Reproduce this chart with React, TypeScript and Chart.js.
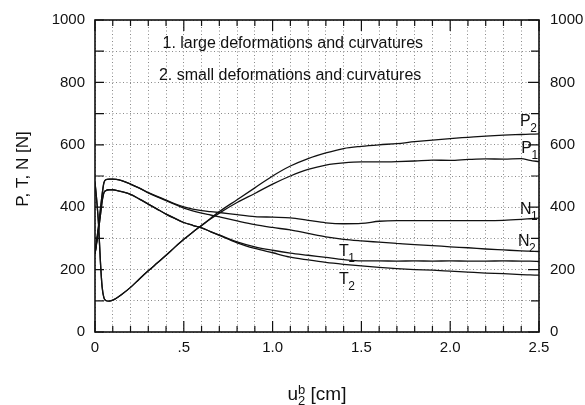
import React, { useEffect, useRef } from "react";
import { Chart, registerables } from "chart.js";
Chart.register(...registerables);

const FONT = '"Liberation Sans", Arial, Helvetica, sans-serif';

// displacement u2b [cm]
const xs = [0, 0.01, 0.02, 0.03, 0.04, 0.05, 0.06, 0.08, 0.1, 0.12, 0.15, 0.2, 0.25, 0.3, 0.35, 0.4, 0.45, 0.5, 0.55, 0.6, 0.65, 0.7, 0.8, 0.9, 1.0, 1.1, 1.2, 1.3, 1.4, 1.5, 1.6, 1.7, 1.8, 1.9, 2.0, 2.1, 2.2, 2.3, 2.4, 2.45, 2.5];

// forces [N]
const p2 = [480, 420, 345, 230, 145, 110, 101, 99, 102, 108, 120, 143, 170, 196, 221, 246, 272, 297, 320, 342, 364, 386, 424, 462, 500, 532, 556, 574, 588, 595, 600, 604, 610, 615, 620, 624, 628, 631, 633, 634, 635];
const p1 = [480, 420, 345, 230, 145, 110, 101, 99, 102, 108, 120, 143, 170, 196, 221, 246, 272, 297, 320, 341, 362, 381, 415, 444, 474, 500, 521, 535, 542, 545, 545, 546, 548, 551, 550, 553, 555, 554, 556, 550, 546];
const n1 = [250, 295, 340, 390, 440, 478, 488, 490, 490, 489, 485, 474, 461, 447, 435, 423, 411, 401, 394, 389, 386, 383, 376, 370, 368, 366, 358, 350, 347, 348, 355, 357, 357, 357, 357, 357, 357, 358, 361, 363, 365];
const n2 = [250, 295, 340, 390, 440, 478, 488, 490, 490, 489, 485, 474, 461, 446, 433, 421, 409, 397, 388, 381, 375, 369, 356, 344, 335, 327, 316, 305, 297, 292, 288, 284, 280, 277, 273, 270, 266, 263, 260, 259, 258];
const t1 = [250, 288, 328, 372, 418, 446, 453, 456, 456, 454, 450, 441, 426, 410, 394, 378, 364, 351, 342, 334, 322, 311, 289, 273, 262, 253, 246, 239, 232, 228, 228, 227, 228, 227, 228, 227, 227, 228, 227, 227, 226];
const t2 = [250, 288, 328, 372, 418, 446, 453, 456, 456, 454, 450, 441, 426, 410, 394, 378, 364, 351, 342, 334, 322, 310, 286, 268, 254, 240, 231, 223, 217, 212, 207, 203, 200, 198, 195, 192, 189, 187, 184, 183, 182];

const xTickValues = [0, 0.5, 1, 1.5, 2, 2.5];
const xTickLabels = ["0", ".5", "1.0", "1.5", "2.0", "2.5"];
const yTickValues = [0, 200, 400, 600, 800, 1000];
const yTickLabels = ["0", "200", "400", "600", "800", "1000"];

const notes = ["1. large deformations and curvatures", "2. small deformations and curvatures"];

const toPoints = (ys: number[]) => xs.map((x, i) => ({ x, y: ys[i] }));

const labelFor = (v: number, values: number[], labels: string[]) => {
  const i = values.findIndex((t) => Math.abs(t - v) < 1e-6);
  return i >= 0 ? labels[i] : "";
};

const framePlugin = {
  id: "frame",
  afterDraw(chart: any) {
    const { ctx, chartArea: a, scales } = chart;
    const x = scales.x;
    const y = scales.y;
    ctx.save();
    ctx.strokeStyle = "#111";
    ctx.lineWidth = 1.2;

    // inward tick marks
    x.ticks.forEach((t: any) => {
      const px = x.getPixelForValue(t.value);
      const major = labelFor(t.value, xTickValues, xTickLabels) !== "";
      const len = major ? 11 : 6;
      ctx.beginPath();
      ctx.moveTo(px, a.top);
      ctx.lineTo(px, a.top + len);
      ctx.moveTo(px, a.bottom);
      ctx.lineTo(px, a.bottom - len);
      ctx.stroke();
    });
    y.ticks.forEach((t: any) => {
      const py = y.getPixelForValue(t.value);
      const major = labelFor(t.value, yTickValues, yTickLabels) !== "";
      ctx.beginPath();
      ctx.moveTo(a.left, py);
      ctx.lineTo(a.left + 9, py);
      ctx.moveTo(a.right, py);
      ctx.lineTo(a.right - (major ? 11 : 8), py);
      ctx.stroke();
    });

    // frame
    ctx.lineWidth = 1.6;
    ctx.strokeRect(a.left, a.top, a.right - a.left, a.bottom - a.top);

    ctx.fillStyle = "#111";
    ctx.textBaseline = "alphabetic";
    ctx.textAlign = "left";

    // notes
    ctx.font = `16px ${FONT}`;
    ctx.fillText(notes[0], x.getPixelForValue(0.38), y.getPixelForValue(911));
    ctx.fillText(notes[1], x.getPixelForValue(0.36), y.getPixelForValue(809));

    // curve labels
    const curveLabels = [
      { main: "P", sub: "2", x: 2.393, y: 659 },
      { main: "P", sub: "1", x: 2.4, y: 573 },
      { main: "N", sub: "1", x: 2.393, y: 379 },
      { main: "N", sub: "2", x: 2.382, y: 277 },
      { main: "T", sub: "1", x: 1.374, y: 245 },
      { main: "T", sub: "2", x: 1.374, y: 153 },
    ];
    curveLabels.forEach((l) => {
      const px = x.getPixelForValue(l.x);
      const py = y.getPixelForValue(l.y);
      ctx.font = `16px ${FONT}`;
      ctx.fillText(l.main, px, py);
      const w = ctx.measureText(l.main).width;
      ctx.font = `12px ${FONT}`;
      ctx.fillText(l.sub, px + w - 0.5, py + 6);
    });

    // y title
    ctx.save();
    ctx.translate(23, (a.top + a.bottom) / 2 - 7);
    ctx.rotate(-Math.PI / 2);
    ctx.font = `17px ${FONT}`;
    ctx.textAlign = "center";
    ctx.textBaseline = "middle";
    ctx.fillText("P, T, N [N]", 0, 0);
    ctx.restore();

    // x title u_2^b [cm]
    ctx.font = `19px ${FONT}`;
    const wu = ctx.measureText("u").width;
    const wr = ctx.measureText(" [cm]").width;
    ctx.font = `13px ${FONT}`;
    const ws = Math.max(ctx.measureText("b").width, ctx.measureText("2").width);
    const total = wu + ws + wr;
    let sx = (a.left + a.right) / 2 - total / 2;
    const base = 400;
    ctx.font = `19px ${FONT}`;
    ctx.fillText("u", sx, base);
    sx += wu;
    ctx.font = `13px ${FONT}`;
    ctx.fillText("b", sx, base - 6);
    ctx.fillText("2", sx, base + 5);
    sx += ws;
    ctx.font = `19px ${FONT}`;
    ctx.fillText(" [cm]", sx, base);

    ctx.restore();
  },
};

export default function App() {
  const canvasRef = useRef<HTMLCanvasElement>(null);
  const chartRef = useRef<Chart | null>(null);

  useEffect(() => {
    document.body.style.margin = "0";
    if (!canvasRef.current) return;
    if (chartRef.current) chartRef.current.destroy();

    const line = (label: string, ys: number[]) => ({
      label,
      data: toPoints(ys),
      borderColor: "#111",
      borderWidth: 1.3,
      pointRadius: 0,
      fill: false,
      cubicInterpolationMode: "monotone" as const,
    });

    const gridColor = "#8a8a8a";

    chartRef.current = new Chart(canvasRef.current, {
      type: "line",
      data: {
        datasets: [
          line("P2", p2),
          line("P1", p1),
          line("N1", n1),
          line("N2", n2),
          line("T1", t1),
          line("T2", t2),
        ],
      },
      options: {
        animation: false,
        responsive: true,
        maintainAspectRatio: false,
        layout: { padding: { top: 18, left: 0, right: 0, bottom: 0 } },
        plugins: { legend: { display: false }, tooltip: { enabled: false } },
        scales: {
          x: {
            type: "linear",
            position: "bottom",
            min: 0,
            max: 2.5,
            afterFit: (s: any) => {
              s.height = 73;
            },
            grid: { color: gridColor, lineWidth: 1, drawTicks: false },
            border: { display: false, dash: [1, 2.5] },
            ticks: {
              stepSize: 0.1,
              autoSkip: false,
              maxRotation: 0,
              padding: 7,
              color: "#111",
              font: { family: FONT, size: 15 },
              callback: (v: any) => labelFor(Number(v), xTickValues, xTickLabels),
            },
          },
          y: {
            type: "linear",
            position: "left",
            min: 0,
            max: 1000,
            afterFit: (s: any) => {
              s.width = 95;
            },
            grid: { color: gridColor, lineWidth: 1, drawTicks: false },
            border: { display: false, dash: [1, 2.5] },
            ticks: {
              stepSize: 100,
              autoSkip: false,
              padding: 10,
              color: "#111",
              font: { family: FONT, size: 15 },
              callback: (v: any) => labelFor(Number(v), yTickValues, yTickLabels),
            },
          },
          y2: {
            type: "linear",
            position: "right",
            min: 0,
            max: 1000,
            afterFit: (s: any) => {
              s.width = 46;
            },
            grid: { display: false, drawTicks: false },
            border: { display: false },
            ticks: {
              stepSize: 100,
              autoSkip: false,
              padding: 11,
              color: "#111",
              font: { family: FONT, size: 15 },
              callback: (v: any) => labelFor(Number(v), yTickValues, yTickLabels),
            },
          },
        },
      },
      plugins: [framePlugin],
    });

    return () => {
      if (chartRef.current) {
        chartRef.current.destroy();
        chartRef.current = null;
      }
    };
  }, []);

  return (
    <div style={{ width: 585, height: 405, position: "relative", background: "#fff" }}>
      <canvas ref={canvasRef} />
    </div>
  );
}
